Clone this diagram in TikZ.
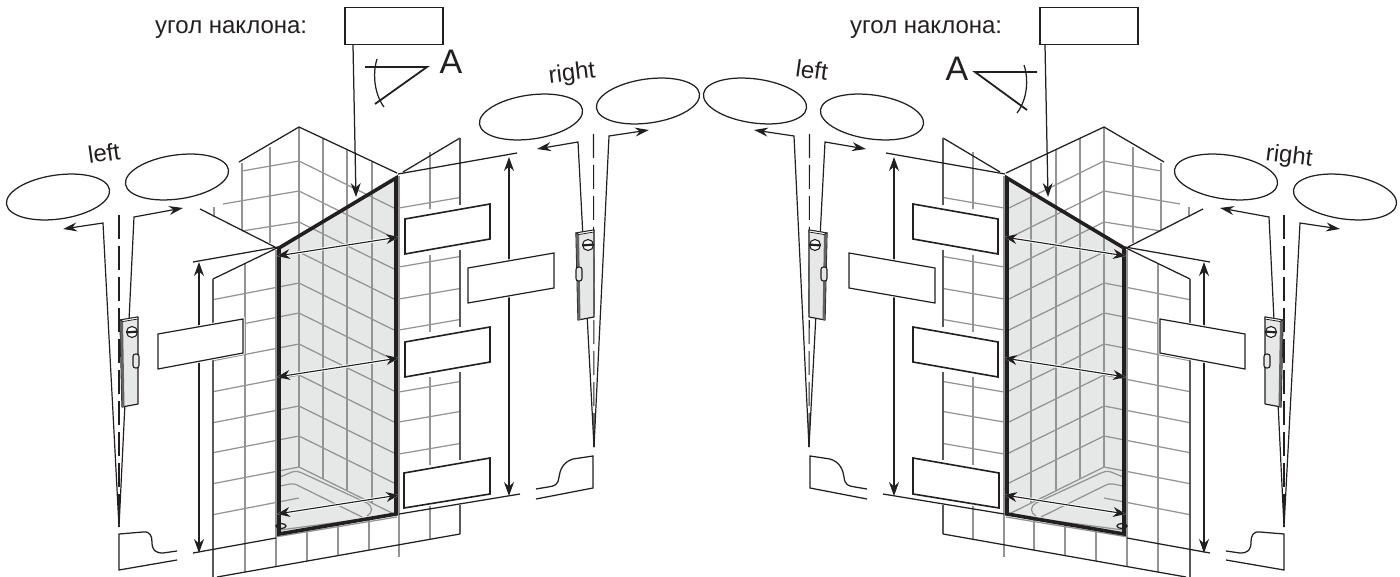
\documentclass[tikz,border=0pt]{standalone}
\usepackage{fontspec}
\setmainfont{Liberation Sans}
\usetikzlibrary{arrows.meta}
\definecolor{ink}{HTML}{231F20}
\definecolor{tilegray}{HTML}{939494}
\definecolor{glassgray}{HTML}{E6E7E7}

\newcommand{\spiritlevel}[3]{%
  \begin{scope}[shift={(#1,#2)}]
    \draw[ink, line width=1.2, fill=glassgray, line join=round] (120,320) -- (138,317) -- (138,404) -- (122,407) -- cycle;
    \fill[ink!70] (120,320) -- (123,320.5) -- (124.5,406.5) -- (122,407) -- cycle;
    \draw[ink, line width=.8, fill=white] (120,320) -- (138,317) -- (138,319) -- (123,321.5) -- cycle;
    \draw[ink, line width=1.1, fill=white] (132,332) circle [radius=5.5];
    \draw[ink, line width=2.2] (127,332.4) -- (137,331.6);
    \draw[ink, line width=1.1, fill=glassgray, rounded corners=2.5] (#3-3,354) rectangle (#3+3,368);
  \end{scope}}

\newcommand{\showerhalf}{%
  % glass panel and tiles behind it
  \coordinate (glassTL) at (279,248);
  \coordinate (glassTR) at (396,178);
  \coordinate (glassBR) at (396,514);
  \coordinate (glassBL) at (279,534);
  \fill[glassgray] (glassTL) -- (glassTR) -- (glassBR) -- (glassBL) -- cycle;
  \foreach \yy in {161,191,222,252,283,313,344,375,406,436,467}
    \draw[tile] (299,\yy) -- (396,\yy+48);
  \draw[tile] (299,127) -- (299,467);
  \draw[tile] (323,138) -- (323,479);
  \draw[tile] (347,150) -- (347,490);
  \draw[tile] (372,162) -- (372,503);
  \draw[tile] (299,161) -- (242,171);
  \draw[tile] (299,191) -- (223,204);
  \draw[tile] (299,222) -- (242,231);
  \draw[tile] (299,252) -- (279,256);
  \foreach \yy in {283,313,344,375,406,436,467,498}
    \draw[tile] (299,\yy) -- (214,\yy+16.5);
  \draw[tile] (270,147) -- (270,243);
  \draw[tile] (242,163) -- (242,230);
  \draw[tile] (214,207) -- (214,217);
  \draw[tile] (245,264) -- (245,572);
  \draw[tile] (276,250) -- (276,566);
  \draw[tile] (399,176) -- (399,557);
  \draw[tile] (430,152) -- (430,209);
  \draw[tile] (430,255) -- (430,332);
  \draw[tile] (430,377) -- (430,465);
  \draw[tile] (430,505) -- (430,540);
  \foreach \yy in {208,267,299,330,392,422,454}
    \draw[tile] (399,\yy) -- (460,\yy-10.5);
  \draw[tile] (307,529) -- (307,561);
  \draw[tile] (338,524) -- (338,556);
  \draw[tile] (369,519) -- (369,550);
  \draw[tile] (275,537) -- (397,517);
  % bath
  \draw[tile] (280,477) -- (292,472) .. controls (296,471) and (299,471) .. (302,473) -- (367,503) .. controls (373,506) and (373,513) .. (367,516);
  \draw[tile] (280,486) -- (290,484) .. controls (293,483.5) and (295,484) .. (297,485) -- (362,517);
  \draw[tile] (280,530) -- (393,515);
  \draw[wall] (281,526) ellipse [x radius=5, y radius=2.5];
  % black outline of walls
  \draw[wall] (239,162) -- (299,127) -- (397,173);
  \draw[wall] (403,172) -- (460,138);
  \draw[wallside] (460,138) -- (460,205);
  \draw[wallside] (460,250) -- (460,327);
  \draw[wallside] (460,372) -- (460,460);
  \draw[wallside] (460,505) -- (460,534);
  \draw[wall] (460,534) -- (217,577);
  \draw[wall] (200,209) -- (275,247);
  \draw[wall] (277,248) -- (213,279);
  \draw[wallside] (213,279) -- (213,577);
  \draw[glassedge] (glassBL) -- (glassTL) -- (glassTR) -- (glassBR) -- cycle;
  % heights
  \coordinate (dimRT) at (509,157);
  \coordinate (dimRB) at (509,496);
  \coordinate (dimLT) at (199,262);
  \coordinate (dimLB) at (199,553);
  \draw[wall] (398,174) -- (517,153);
  \draw[wall] (399,514) -- (520,494);
  \draw[wall] (278,247) -- (193,262);
  \draw[wall] (193,553) -- (276,538);
  \draw[measure] (dimRT) -- (dimRB);
  \draw[measure] (dimLT) -- (dimLB);
  % widths
  \coordinate (widthAL) at (277,256);
  \coordinate (widthAR) at (399,237);
  \coordinate (widthBL) at (277,377);
  \coordinate (widthBR) at (399,358);
  \coordinate (widthCL) at (277,514);
  \coordinate (widthCR) at (399,495);
  \draw[widtharrow] (widthAL) -- (widthAR);
  \draw[widtharrow] (widthBL) -- (widthBR);
  \draw[widtharrow] (widthCL) -- (widthCR);
  % empty boxes
  \draw[bluntbox] (405,219) -- (490,204) -- (490,239) -- (405,254) -- cycle;
  \draw[bluntbox] (405,342) -- (490,327) -- (490,362) -- (405,377) -- cycle;
  \draw[bluntbox] (404,473) -- (490,458) -- (490,494) -- (404,508) -- cycle;
  \draw[thinbox] (468,268) -- (554,253) -- (554,288) -- (468,303) -- cycle;
  \draw[thinbox] (158,334) -- (243,319) -- (243,353) -- (158,369) -- cycle;
  % outer level
  \coordinate (apexA) at (119,527);
  \coordinate (tipA) at (63,229);
  \coordinate (kneeA) at (103,223);
  \coordinate (tipB) at (183,208);
  \coordinate (kneeB) at (134,217);
  \draw[sight] (tipA) -- (kneeA) -- (apexA);
  \draw[sight] (tipB) -- (kneeB) -- (apexA);
  \draw[plumb] (119,215) -- (apexA);
  \spiritlevel{0}{0}{136}
  % inner level
  \coordinate (apexC) at (594,447);
  \coordinate (tipC) at (537,149);
  \coordinate (kneeC) at (578,142);
  \coordinate (tipD) at (649,130);
  \coordinate (kneeD) at (609,136);
  \draw[sight] (tipC) -- (kneeC) -- (apexC);
  \draw[sight] (tipD) -- (kneeD) -- (apexC);
  \draw[plumb] (593.5,134) -- (apexC);
  \spiritlevel{456}{-87}{123}
  % ovals
  \draw[wall] [rotate around={8:(58,197)}] (58,197) ellipse [x radius=52, y radius=22];
  \draw[wall] [rotate around={8:(177,177)}] (177,177) ellipse [x radius=52, y radius=22];
  \draw[wall] [rotate around={8:(531,117)}] (531,117) ellipse [x radius=52, y radius=22];
  \draw[wall] [rotate around={8:(648,101)}] (648,101) ellipse [x radius=52, y radius=22];
  % basins
  \draw[wall] (177,551) -- (163,553) .. controls (155,553) and (152,550) .. (152,542) .. controls (152,536) and (150,531) .. (143,532) -- (119,534) -- (119,570) -- (177,560);
  \draw[wall] (536,489) -- (548,487) .. controls (555,486) and (558,485) .. (559,477) .. controls (560,470) and (563,462) .. (573,459) -- (593,456) -- (593,488) -- (536,499);
}

\begin{document}
\begin{tikzpicture}[x=1pt, y=-1pt,
  tile/.style = {draw=tilegray, line width=1.25},
  wall/.style = {draw=ink, line width=1.25},
  wallside/.style = {draw=ink!75, line width=1.3},
  glassedge/.style = {draw=ink, line width=3.6, line join=miter},
  measure/.style = {draw=ink, line width=1.25, {Stealth[length=14pt, width=10pt]}-{Stealth[length=14pt, width=10pt]}},
  widtharrow/.style = {draw=ink, line width=1.1, {Stealth[length=13pt, width=10pt]}-{Stealth[length=13pt, width=10pt]},
    preaction={draw=white, line width=3}},
  sight/.style = {draw=ink, line width=1.2, {Stealth[length=14pt, width=9pt]}-},
  plumb/.style = {draw=ink, line width=1.1, dash pattern=on 24pt off 7pt},
  bluntbox/.style = {draw=ink, fill=white, line width=1.6, preaction={draw=white, line width=4}},
  thinbox/.style = {draw=ink, fill=white, line width=1.2, preaction={draw=white, line width=3}},
  topbox/.style = {draw=ink, fill=white, line width=1.6, minimum width=98pt, minimum height=37pt, inner sep=0pt},
  caption/.style = {text=ink, font=\fontsize{24}{26}\selectfont, inner sep=0pt},
  corner/.style = {text=ink, font=\fontsize{34}{36}\selectfont, inner sep=0pt},
  angleline/.style = {draw=ink, line width=1.8}]
  \useasboundingbox (0,0) rectangle (1400,577);

  \begin{scope}[name prefix=L-]
    \showerhalf
  \end{scope}
  \begin{scope}[name prefix=R-, xshift=1403pt, xscale=-1]
    \showerhalf
  \end{scope}

  % left top
  \node[caption, anchor=base west] (angleTextL) at (155,34) {угол наклона:};
  \node[topbox] (angleBoxL) at (394,26) {};
  \coordinate (angleStartL) at (353,45);
  \coordinate (angleTipL) at (356,197);
  \draw[wall, -{Stealth[length=14pt, width=10pt]}] (angleStartL) -- (angleTipL);
  \draw[angleline] (365,67) -- (427,67) -- (375,104);
  \draw[wall] (377,59) .. controls (372,75) and (375,95) .. (384,107);
  \node[corner] (cornerL) at (451,62) {A};
  \node[caption, rotate=8] (leftL) at (104,153) {left};
  \node[caption, rotate=7] (rightL) at (572,74) {right};

  % right top
  \node[caption, anchor=base west] (angleTextR) at (850,34) {угол наклона:};
  \node[topbox] (angleBoxR) at (1089,26) {};
  \coordinate (angleStartR) at (1045,45);
  \coordinate (angleTipR) at (1048,197);
  \draw[wall, -{Stealth[length=14pt, width=10pt]}] (angleStartR) -- (angleTipR);
  \draw[angleline] (1037,72) -- (975,72) -- (1027,110);
  \draw[wall] (1024,65) .. controls (1029,80) and (1027,100) .. (1017,113);
  \node[corner] (cornerR) at (957,69) {A};
  \node[caption, rotate=-8] (leftR) at (812,70) {left};
  \node[caption, rotate=-7] (rightR) at (1289,157) {right};
\end{tikzpicture}
\end{document}
